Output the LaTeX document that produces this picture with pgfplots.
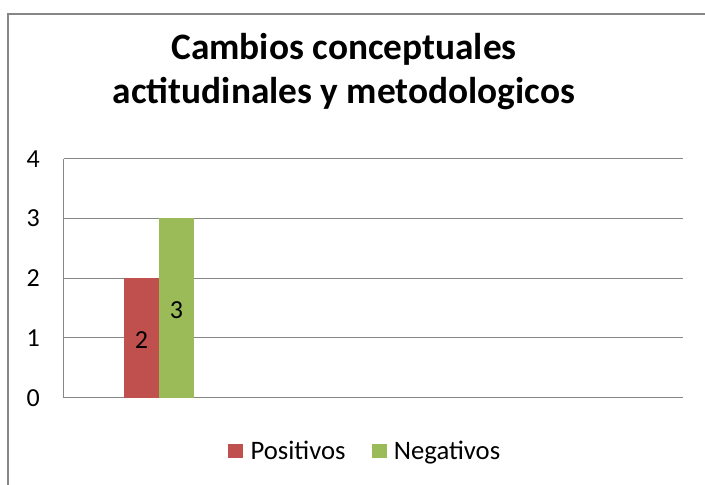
\documentclass[border=0pt]{standalone}
\usepackage{pgfplots}
\pgfplotsset{compat=1.18}
\usepackage{fontspec}
\setmainfont{Carlito}
\definecolor{cred}{RGB}{192,80,77}
\definecolor{cgreen}{RGB}{155,187,89}
\definecolor{cgrid}{RGB}{134,134,134}
\begin{document}
\begin{tikzpicture}
\useasboundingbox (-48pt,-64.8pt) rectangle (480.75pt,298.3pt);
\fill[white] (-48pt,-64.8pt) rectangle (480.75pt,298.3pt);
\draw[cgrid, line width=1.5pt] (-42pt,-70pt) -- (-42pt,287.8pt) -- (490pt,287.8pt);
\node[anchor=base, inner sep=0pt, font=\fontsize{28}{33}\selectfont\bfseries] at (210pt,254pt) {Cambios conceptuales};
\node[anchor=base, inner sep=0pt, font=\fontsize{28}{33}\selectfont\bfseries] at (210pt,221pt) {actitudinales y metodologicos};
\begin{axis}[
  at={(0pt,0pt)}, anchor=south west,
  scale only axis, width=464.25pt, height=179.25pt,
  xmin=0, xmax=619, ymin=0, ymax=4,
  ytick={0,1,2,3,4}, xtick=\empty,
  axis x line*=bottom, axis y line*=left,
  axis line style={cgrid, line width=0.75pt},
  ymajorgrids, major grid style={cgrid, line width=0.75pt},
  major tick length=0pt,
  tick label style={font=\fontsize{19.5}{22}\selectfont},
  yticklabel style={inner sep=0pt, xshift=-18pt},
  /pgf/number format/assume math mode=true,
  ybar=0pt, bar width=26.25pt,
  nodes near coords,
  visualization depends on={rawy \as \rawy},
  every node near coord/.append style={anchor=center, font=\fontsize{19.5}{22}\selectfont, yshift={-22.406pt*\rawy-1.5pt}, text=black},
  legend columns=2,
  legend style={at={(axis description cs:0.485,-0.223)}, anchor=center, draw=none, fill=none,
    font=\fontsize{20}{22}\selectfont, inner sep=0pt, nodes={inner sep=0pt},
    /tikz/every odd column/.append style={column sep=5.5pt},
    /tikz/every even column/.append style={column sep=19.5pt}},
]
\addplot[fill=cred, draw=none, legend image code/.code={\fill[cred] (0pt,-5.6pt) rectangle (11.25pt,5.6pt);}] coordinates {(95,2)};
\addplot[fill=cgreen, draw=none, legend image code/.code={\fill[cgreen] (0pt,-5.6pt) rectangle (11.25pt,5.6pt);}] coordinates {(95,3)};
\legend{Positivos,Negativos}
\end{axis}
\end{tikzpicture}
\end{document}
